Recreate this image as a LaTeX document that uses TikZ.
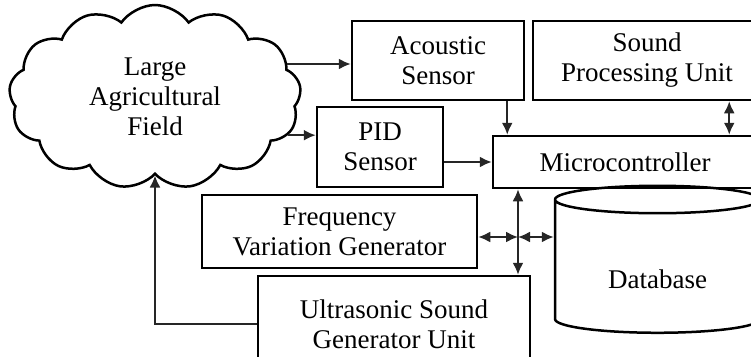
\documentclass[tikz,border=0pt]{standalone}
\usepackage{fontspec}
\setmainfont{Liberation Serif}
\usetikzlibrary{positioning,arrows.meta,shapes.symbols,shapes.geometric,calc}

\begin{document}
\begin{tikzpicture}[
  x=1pt, y=-1pt,
  font=\fontsize{27}{30}\selectfont, >={Latex[length=12pt, width=11pt]},
  box/.style={draw, line width=2.5pt, align=center, inner sep=0pt},
  fieldcloud/.style={cloud, draw, line width=2.5pt, cloud puffs=13, cloud puff arc=110,
    cloud ignores aspect, minimum width=292pt, minimum height=184pt, align=center, inner sep=0pt},
  store/.style={cylinder, draw, line width=2.5pt, shape border rotate=90, aspect=0.26,
    minimum width=205pt, minimum height=147pt},
  flow/.style={->, line width=2pt, black!85},
  biflow/.style={<->, line width=2pt, black!85},
]
\clip (0,0) rectangle (751,356);
% ---- field (left) ----
\node[fieldcloud] (field) at (155,97) {Large\\Agricultural\\Field};
% ---- sensors and units (top row) ----
\node[box, minimum width=172pt, minimum height=79pt] (acoustic) at (438,60.5) {Acoustic\\Sensor};
\node[box, minimum width=228pt, minimum height=79pt] (spu) at (647,60.5) {Sound\\Processing Unit};
\node[box, minimum width=126pt, minimum height=80pt] (pid) at (380,147) {PID\\Sensor};
\node[box, minimum width=264pt, minimum height=52pt] (micro) at (625,162) {Microcontroller};
% ---- generators and storage (bottom) ----
\node[box, minimum width=275pt, minimum height=73pt] (fvg) at (339.5,231.5) {Frequency\\Variation Generator};
\node[box, minimum width=272pt, minimum height=96pt] (usgu) at (394,324) {Ultrasonic Sound\\Generator Unit};
\node[store] (db) at (657.5,268.5) {\raisebox{-11pt}[\height][\depth]{Database}};
\coordinate (bus) at (518,237);
% ---- arrows ----
\draw[flow] (field.14) -- (field.14 -| acoustic.west);
\draw[flow] (field.-16) -- (field.-16 -| pid.west);
\draw[flow] ([xshift=-18pt]acoustic.south east) -- ([xshift=-18pt]acoustic.south east |- micro.north);
\draw[biflow] ([xshift=-33pt]spu.south east) -- ([xshift=-33pt]spu.south east |- micro.north);
\draw[flow] (micro.west -| pid.east) -- (micro.west);
\draw[biflow] (bus |- micro.south) -- (bus |- usgu.north);
\draw[biflow] (fvg.east |- bus) -- (bus);
\draw[biflow] (bus) -- (bus -| db.west);
\draw[flow] (usgu.west) -| (field.south);
\end{tikzpicture}
\end{document}
